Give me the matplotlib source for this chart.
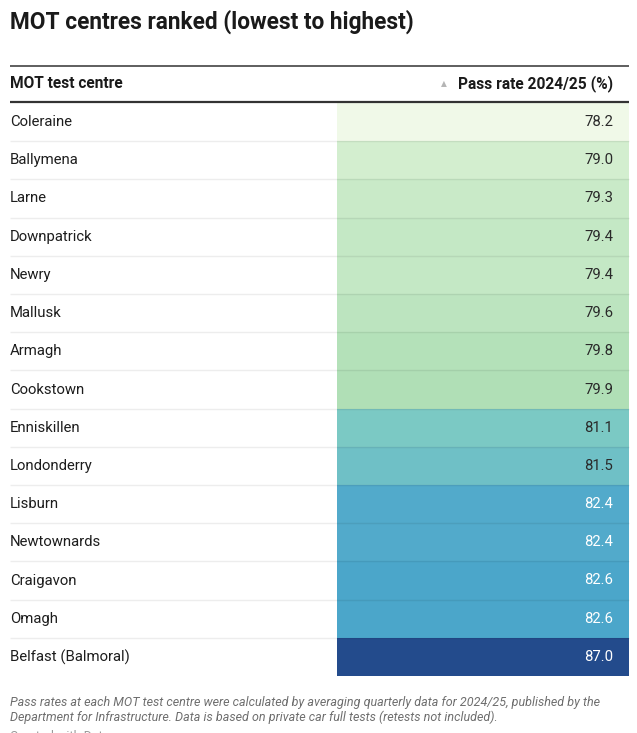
import matplotlib.pyplot as plt
from matplotlib.colors import LinearSegmentedColormap, Normalize

plt.rcParams['font.family'] = ['Roboto', 'DejaVu Sans']

centres = ["Coleraine", "Ballymena", "Larne", "Downpatrick", "Newry", "Mallusk",
           "Armagh", "Cookstown", "Enniskillen", "Londonderry", "Lisburn",
           "Newtownards", "Craigavon", "Omagh", "Belfast (Balmoral)"]
pass_rate = [78.2, 79.0, 79.3, 79.4, 79.4, 79.6, 79.8, 79.9, 81.1, 81.5,
             82.4, 82.4, 82.6, 82.6, 87.0]

title = "MOT centres ranked (lowest to highest)"
col_headers = ["MOT test centre", "Pass rate 2024/25 (%)"]
note = ("Pass rates at each MOT test centre were calculated by averaging quarterly data for 2024/25, published by the\n"
        "Department for Infrastructure. Data is based on private car full tests (retests not included).")
credit = "Created with Datawrapper"

# colour scale stops (value, colour)
scale_stops = [(78.2, "#f0f9e8"), (79.0, "#d3eecf"), (79.9, "#b0dfb6"),
               (81.1, "#7bc9c4"), (82.4, "#52aacb"), (82.6, "#4aa6ca"),
               (87.0, "#234b8c")]
vmin, vmax = scale_stops[0][0], scale_stops[-1][0]
cmap = LinearSegmentedColormap.from_list(
    "passrate", [((v - vmin) / (vmax - vmin), c) for v, c in scale_stops])
norm = Normalize(vmin, vmax)

W, H = 637, 733
fig = plt.figure(figsize=(W / 100, H / 100), dpi=100)
ax = fig.add_axes([0, 0, 1, 1])
ax.set_xlim(0, W)
ax.set_ylim(H, 0)
ax.axis("off")

left, right = 10, 629
cell_left = 337
row_top = 103
row_h = 38.2

ax.text(left, 22, title, fontsize=16.3, fontweight="bold", color="#1a1a1a",
        va="center", ha="left")

# header
ax.plot([left, right], [65.5, 65.5], color="#333333", lw=1.1, solid_capstyle="butt")
ax.text(left, 84, col_headers[0], fontsize=11.2, fontweight="bold", color="#1a1a1a",
        va="center", ha="left")
ax.text(613, 84, col_headers[1], fontsize=11.2, fontweight="bold", color="#1a1a1a",
        va="center", ha="right")
ax.text(447, 84, "\u25b2", fontsize=5.5, color="#b5b5b5", va="center", ha="right",
        family=["DejaVu Sans"])
ax.plot([left, right], [101.5, 101.5], color="#333333", lw=1.6, solid_capstyle="butt")

ys = [row_top + row_h * (i + 0.5) for i in range(len(centres))]
colors = [cmap(norm(v)) for v in pass_rate]
ax.barh(ys, [right - cell_left] * len(ys), left=cell_left, height=row_h,
        color=colors, linewidth=0)

for i, (name, val, y) in enumerate(zip(centres, pass_rate, ys)):
    ax.text(left, y, name, fontsize=10.7, color="#1d1d1d", va="center", ha="left")
    txt_col = "white" if val >= 82.4 else "#2a2a2a"
    ax.text(613, y, f"{val:.1f}", fontsize=10.7, color=txt_col, va="center", ha="right")
    if i < len(centres) - 1:
        yb = row_top + row_h * (i + 1)
        ax.plot([left, right], [yb, yb], color="black", alpha=0.07, lw=1,
                solid_capstyle="butt")

ax.text(left, 710, note, fontsize=9.0, style="italic", color="#6e6e6e",
        va="center", ha="left", linespacing=1.15)
ax.text(left, 730, credit, fontsize=9.0, color="#9a9a9a", va="top", ha="left")

fig.savefig("out.png", dpi=100)
